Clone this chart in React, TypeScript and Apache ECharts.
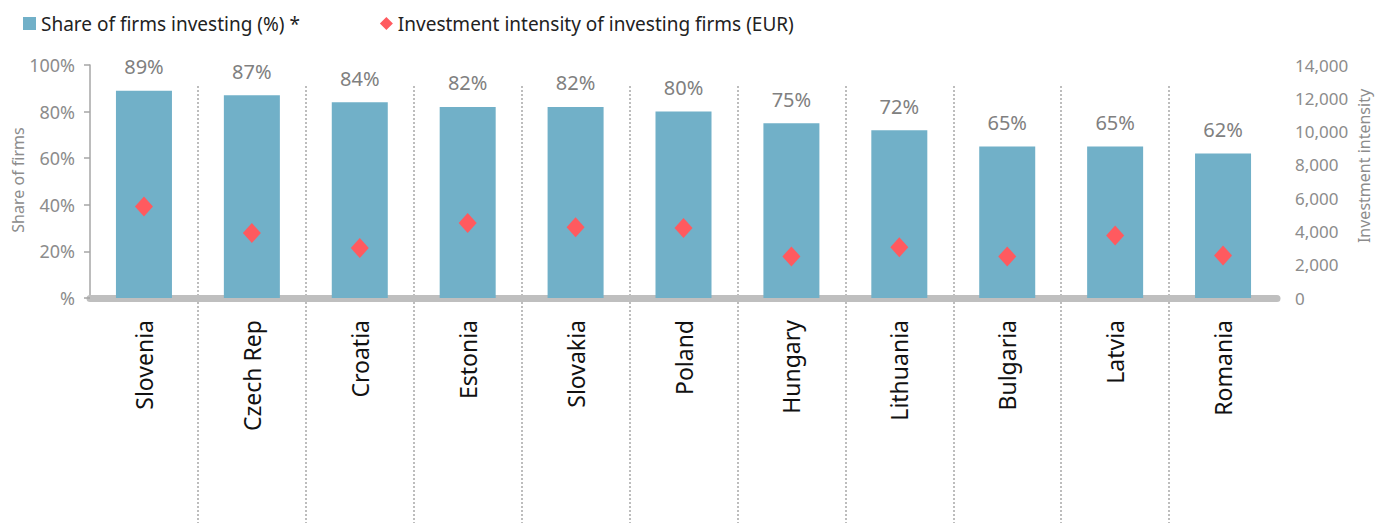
import React, { useEffect, useRef } from "react";
import * as echarts from "echarts";

const categories = ["Slovenia", "Czech Rep", "Croatia", "Estonia", "Slovakia", "Poland", "Hungary", "Lithuania", "Bulgaria", "Latvia", "Romania"];
const shareInvesting = [89, 87, 84, 82, 82, 80, 75, 72, 65, 65, 62];
const investmentIntensity = [5500, 3900, 3000, 4500, 4250, 4200, 2500, 3050, 2500, 3750, 2550];
const leftTicks = [0, 20, 40, 60, 80, 100];
const rightTicks = [0, 2000, 4000, 6000, 8000, 10000, 12000, 14000];

const FONT = "'Noto Sans', 'Open Sans', sans-serif";

export default function App() {
  const ref = useRef<HTMLDivElement>(null);
  useEffect(() => {
    if (!ref.current) return;
    const chart = echarts.init(ref.current, null, { renderer: "svg" });
    chart.setOption({
      animation: false,
      textStyle: { fontFamily: FONT },
      legend: {
        left: 18,
        top: 9,
        itemGap: 80,
        itemWidth: 13,
        itemHeight: 13,
        textStyle: { fontSize: 19, color: "#222", fontFamily: FONT },
        data: [
          { name: "Share of firms investing (%) *", icon: "rect" },
          { name: "Investment intensity of investing firms (EUR)", icon: "diamond" },
        ],
      },
      graphic: [
        {
          type: "text",
          x: 18,
          y: 180,
          rotation: Math.PI / 2,
          style: {
            text: "Share of firms",
            fontSize: 16,
            fill: "#8c8c8c",
            fontFamily: FONT,
            align: "center",
            verticalAlign: "middle",
          },
        },
        {
          type: "text",
          x: 1364,
          y: 166,
          rotation: Math.PI / 2,
          style: {
            text: "Investment intensity",
            fontSize: 16,
            fill: "#8c8c8c",
            fontFamily: FONT,
            align: "center",
            verticalAlign: "middle",
          },
        },
      ],
      grid: [
        { left: 90, right: 103, top: 65, bottom: 225, containLabel: false, outerBoundsMode: "none" },
        { left: 90, right: 103, top: 86, bottom: 0, containLabel: false, outerBoundsMode: "none" },
      ],
      xAxis: [
        {
          type: "category",
          gridIndex: 0,
          data: categories,
          axisLine: { show: true, lineStyle: { color: "#bfbfbf", width: 7 } },
          axisTick: { show: false },
          axisLabel: { rotate: 90, fontSize: 23, color: "#111", margin: 22, fontFamily: FONT },
          splitLine: { show: false },
        },
        {
          type: "category",
          gridIndex: 1,
          data: categories,
          axisLine: { show: false },
          axisTick: { show: false },
          axisLabel: { show: false },
          splitLine: {
            show: true,
            showMinLine: false,
            showMaxLine: false,
            lineStyle: { color: "#bdbdbd", type: [2, 2], width: 2 },
          },
        },
      ],
      yAxis: [
        {
          type: "value",
          gridIndex: 0,
          min: leftTicks[0],
          max: leftTicks[leftTicks.length - 1],
          interval: 20,
          axisLine: { show: true, lineStyle: { color: "#a6a6a6", width: 1.5 } },
          axisTick: { show: true, length: 6, lineStyle: { color: "#a6a6a6", width: 1.5 } },
          axisLabel: {
            fontSize: 18,
            color: "#8c8c8c",
            margin: 15,
            formatter: (v: number) => (v === 0 ? "%" : v + "%"),
          },
          splitLine: { show: false },
        },
        {
          type: "value",
          gridIndex: 0,
          position: "right",
          min: rightTicks[0],
          max: rightTicks[rightTicks.length - 1],
          interval: 2000,
          axisLine: { show: false },
          axisTick: { show: false },
          axisLabel: {
            fontSize: 17,
            color: "#8c8c8c",
            margin: 18,
            formatter: (v: number) => v.toLocaleString("en-US"),
          },
          splitLine: { show: false },
        },
        {
          type: "value",
          gridIndex: 1,
          show: false,
          min: 0,
          max: 1,
        },
      ],
      series: [
        {
          name: "Share of firms investing (%) *",
          type: "bar",
          xAxisIndex: 0,
          yAxisIndex: 0,
          data: shareInvesting,
          barWidth: 56,
          itemStyle: { color: "#71b0c8" },
          label: {
            show: true,
            position: "top",
            distance: 14,
            fontSize: 20,
            color: "#808080",
            formatter: (p: any) => p.value + "%",
          },
          z: 2,
        },
        {
          name: "Investment intensity of investing firms (EUR)",
          type: "scatter",
          xAxisIndex: 0,
          yAxisIndex: 1,
          data: investmentIntensity,
          symbol: "diamond",
          symbolSize: [18, 20],
          itemStyle: { color: "#ff5a5f", opacity: 1 },
          z: 3,
        },
        {
          name: "_grid2",
          type: "line",
          xAxisIndex: 1,
          yAxisIndex: 2,
          data: [],
          silent: true,
        },
      ],
    });
    return () => chart.dispose();
  }, []);
  return (
    <div
      ref={ref}
      style={{ position: "absolute", left: 0, top: 0, width: 1380, height: 523 }}
    />
  );
}
